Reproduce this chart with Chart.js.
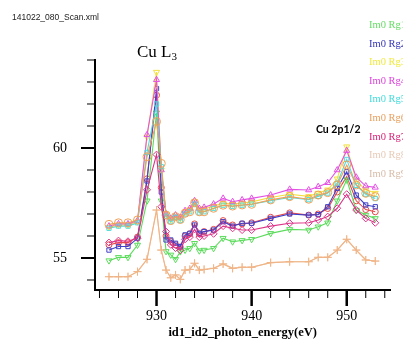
<!DOCTYPE html>
<html>
<head>
<meta charset="utf-8">
<script src="https://cdn.jsdelivr.net/npm/chart.js@4.4.1/dist/chart.umd.min.js"></script>
<style>
  html, body { margin: 0; padding: 0; background: #fff; }
  #wrap { width: 403px; height: 351px; }
</style>
</head>
<body>
<div id="wrap"><canvas id="scan" width="403" height="351"></canvas></div>
<script>
// photon energy (eV) of each sample
const energy = [925, 926, 927, 928, 929, 930, 930.5, 931, 931.5, 932, 932.5, 933, 933.5, 934, 934.5, 935,
  936, 937, 938, 939, 940, 942, 944, 946, 947, 948, 949, 950, 951, 952, 953];

// one array per region
const rg0 = [55.6, 55.7, 55.7, 55.95, 58.6, 62.4, 58.2, 56.0, 55.75, 55.6, 55.5, 56.0, 56.1, 56.55, 56.1, 56.2,
  56.3, 56.7, 56.5, 56.55, 56.6, 56.85, 57.05, 56.95, 57.0, 57.25, 58.0, 58.7, 57.6, 57.2, 57.1];
const rg1 = [54.88, 55.03, 55.03, 55.59, 57.6, 61.6, 57.6, 55.3, 55.14, 54.94, 55.29, 55.36, 55.44, 55.67, 55.33, 55.36,
  55.44, 55.9, 55.74, 55.8, 55.85, 56.12, 56.3, 56.27, 56.42, 56.6, 57.6, 58.55, 57.18, 56.95, 56.8];
const rg2 = [55.36, 55.52, 55.52, 55.9, 58.5, 62.7, 58.0, 55.82, 55.82, 55.67, 55.52, 56.05, 56.12, 56.5, 56.12, 56.2,
  56.27, 56.65, 56.45, 56.58, 56.58, 56.8, 57.0, 56.95, 56.97, 57.33, 58.17, 58.92, 57.86, 57.41, 57.33];
const rg3 = [56.4, 56.5, 56.5, 56.65, 60.5, 63.45, 59.0, 57.0, 56.75, 56.9, 56.8, 57.1, 57.2, 57.55, 57.2, 57.25,
  57.35, 57.5, 57.45, 57.5, 57.55, 57.75, 57.9, 57.8, 57.95, 58.1, 58.6, 60.06, 58.5, 58.1, 57.95];
const rg4 = [56.45, 56.55, 56.55, 56.7, 60.6, 63.1, 59.0, 57.0, 56.8, 56.95, 56.85, 57.15, 57.25, 57.6, 57.25, 57.3,
  57.45, 57.71, 57.56, 57.64, 57.71, 57.86, 58.12, 58.09, 58.24, 58.42, 59.0, 59.88, 58.67, 58.27, 58.21];
const rg5 = [56.35, 56.45, 56.45, 56.6, 59.8, 62.0, 59.15, 56.9, 56.65, 56.85, 56.7, 57.0, 57.1, 57.45, 57.05, 57.1,
  57.25, 57.4, 57.35, 57.4, 57.45, 57.6, 57.75, 57.65, 57.8, 57.95, 58.4, 59.48, 58.3, 57.9, 57.7];
const rg6 = [56.53, 56.6, 56.6, 56.73, 59.6, 61.2, 59.3, 56.95, 56.7, 56.88, 56.75, 57.03, 57.1, 57.51, 57.1, 57.1,
  57.26, 57.4, 57.36, 57.41, 57.44, 57.64, 57.79, 57.67, 57.86, 57.97, 58.32, 59.23, 58.32, 57.94, 57.79];
const rg7 = [55.7, 55.79, 55.76, 55.9, 58.1, 59.7, 57.33, 56.2, 55.6, 55.45, 55.35, 55.85, 55.95, 56.3, 55.95, 56.0,
  56.1, 56.45, 56.35, 56.27, 56.27, 56.45, 56.58, 56.6, 56.73, 56.88, 57.26, 57.9, 57.18, 56.8, 56.6];
const rg8 = [54.15, 54.15, 54.15, 54.38, 54.94, 57.18, 55.36, 54.45, 54.1, 54.23, 54.03, 54.45, 54.48, 54.76, 54.45, 54.48,
  54.53, 54.73, 54.53, 54.58, 54.58, 54.79, 54.83, 54.83, 55.03, 55.03, 55.36, 55.85, 55.36, 54.91, 54.86];
const rg9 = [54.15, 54.15, 54.15, 54.38, 54.94, 57.18, 55.36, 54.45, 54.1, 54.23, 54.03, 54.45, 54.48, 54.76, 54.45, 54.48,
  54.53, 54.73, 54.53, 54.58, 54.58, 54.79, 54.83, 54.83, 55.03, 55.03, 55.36, 55.85, 55.36, 54.91, 54.86];

const labels = ["Im0 Rg0", "Im0 Rg1", "Im0 Rg2", "Im0 Rg3", "Im0 Rg4", "Im0 Rg5", "Im0 Rg6", "Im0 Rg7", "Im0 Rg8", "Im0 Rg9"];
const yTicks = [55, 60];
const xTicks = [930, 940, 950];

const series = [rg0, rg1, rg2, rg3, rg4, rg5, rg6, rg7, rg8, rg9];
const colors = ["#e84848", "#5cdc5c", "#4040c8", "#f2e03c", "#e452e4", "#50dcdc", "#f0a058", "#dc3488", "#f2caa8", "#f0b486"];
const markers = ["circle", "triangle", "rect", "triangle", "triangle", "rect", "circle", "rectRot", "cross", "cross"];
const rotations = [0, 180, 0, 180, 0, 0, 0, 0, 0, 0];
const radii = [3, 3.5, 3, 3.5, 3.5, 3, 4, 3.5, 4, 4];
// legend text colours, a bit different from the marks
const legendColors = ["#e84848", "#66dd66", "#3434b8", "#f0ea40", "#dd44dd", "#44dcdc", "#e8a060", "#d82478", "#e8cab8", "#d8bcaa"];

const datasets = series.map((vals, i) => ({
  label: labels[i],
  data: vals.map((v, k) => ({ x: energy[k], y: v })),
  borderColor: colors[i],
  backgroundColor: "rgba(255,255,255,0)",
  borderWidth: 1.1,
  pointStyle: markers[i],
  pointRotation: rotations[i],
  pointRadius: radii[i],
  pointBorderColor: colors[i],
  pointBackgroundColor: "rgba(255,255,255,0)",
  pointBorderWidth: 1,
  tension: 0,
  fill: false,
  order: 9 - i,
}));

// tick marks: long + thick at the labelled values, short otherwise
const tickMarks = {
  id: "tickMarks",
  afterDraw(chart) {
    const { ctx, chartArea: a, scales: { x, y } } = chart;
    ctx.save();
    ctx.strokeStyle = "#000";
    x.ticks.forEach((t) => {
      const px = x.getPixelForValue(t.value);
      const major = xTicks.includes(t.value);
      ctx.lineWidth = major ? 2.5 : 1;
      ctx.beginPath();
      ctx.moveTo(px, a.bottom);
      ctx.lineTo(px, a.bottom + (major ? 16 : 8));
      ctx.stroke();
    });
    y.ticks.forEach((t) => {
      const py = y.getPixelForValue(t.value);
      const major = yTicks.includes(t.value);
      ctx.lineWidth = major ? 2 : 1;
      ctx.beginPath();
      ctx.moveTo(a.left, py);
      ctx.lineTo(a.left - (major ? 14 : 8), py);
      ctx.stroke();
    });
    ctx.restore();
  },
};

// file name, peak names and the cut-off legend column
const annotations = {
  id: "annotations",
  afterDraw(chart) {
    const ctx = chart.ctx;
    ctx.save();
    ctx.textBaseline = "alphabetic";
    ctx.textAlign = "left";
    ctx.fillStyle = "#222";
    ctx.font = "8.5px 'Liberation Sans'";
    ctx.fillText("141022_080_Scan.xml", 12, 20);

    ctx.fillStyle = "#000";
    ctx.font = "17px 'Liberation Serif'";
    ctx.fillText("Cu L", 137, 57);
    const w = ctx.measureText("Cu L").width;
    ctx.font = "11px 'Liberation Serif'";
    ctx.fillText("3", 137 + w, 60);

    ctx.font = "bold 10.5px Lato";
    ctx.fillText("Cu 2p1/2", 316, 133);

    // first entry sits above the top edge in the original, so it is not drawn
    ctx.font = "10.5px 'Liberation Serif'";
    chart.data.datasets.forEach((ds, i) => {
      if (i === 0) return;
      ctx.fillStyle = legendColors[i];
      ctx.fillText(ds.label, 369, 28 + (i - 1) * 18.6);
    });
    ctx.restore();
  },
};

new Chart(document.getElementById("scan"), {
  type: "line",
  data: { datasets },
  options: {
    responsive: false,
    animation: false,
    devicePixelRatio: 1,
    layout: { padding: { top: 60, right: 12, bottom: 0, left: 0 } },
    plugins: { legend: { display: false }, tooltip: { enabled: false } },
    scales: {
      x: {
        type: "linear",
        min: 923.53,
        max: 954.59,
        border: { display: true, color: "#000", width: 2 },
        grid: { display: false, drawTicks: false },
        ticks: {
          stepSize: 2,
          includeBounds: false,
          autoSkip: false,
          maxRotation: 0,
          padding: 18,
          color: "#000",
          font: { family: "'Liberation Serif'", size: 14 },
          callback: (v) => (xTicks.includes(v) ? String(v) : ""),
        },
        title: {
          display: true,
          text: "id1_id2_photon_energy(eV)",
          color: "#000",
          font: { family: "'Liberation Serif'", size: 12.5, weight: "bold" },
          padding: { top: 0, bottom: 11 },
        },
        afterFit: (s) => { s.height = 61; },
      },
      y: {
        min: 53.545,
        max: 64.0,
        border: { display: true, color: "#000", width: 2 },
        grid: { display: false, drawTicks: false },
        ticks: {
          stepSize: 1,
          includeBounds: false,
          autoSkip: false,
          padding: 28,
          color: "#000",
          font: { family: "'Liberation Serif'", size: 14 },
          callback: (v) => (yTicks.includes(v) ? String(v) : ""),
        },
        afterFit: (s) => { s.width = 95; },
      },
    },
  },
  plugins: [tickMarks, annotations],
});
</script>
</body>
</html>
